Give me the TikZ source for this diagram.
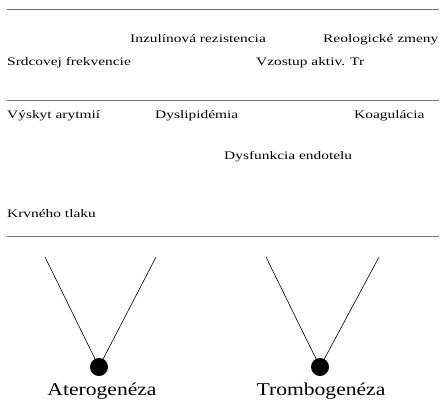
\documentclass[tikz,border=0pt]{standalone}
\usepackage{fontspec}
\setmainfont{Liberation Serif}
\newfontfamily\widefont[FakeStretch=1.34]{Liberation Serif}
\newfontfamily\bigwidefont[FakeStretch=1.2]{Liberation Serif}
\begin{document}
\begin{tikzpicture}[x=1pt,y=-1pt,
  lbl/.style={anchor=base west,inner sep=0pt,font=\widefont\fontsize{11.5}{14}\selectfont},
  big/.style={anchor=base,inner sep=0pt,font=\bigwidefont\fontsize{18}{21}\selectfont},
  rule/.style={draw=black!55,line width=0.7pt},
  vline/.style={draw=black,line width=0.6pt},
  dot/.style={circle,fill=black,minimum size=18pt,inner sep=0pt}]
\useasboundingbox (0,0) rectangle (443,399);
% rules
\coordinate (r1a) at (7,9);   \coordinate (r1b) at (439,9);
\coordinate (r2a) at (7,100); \coordinate (r2b) at (439,100);
\coordinate (r3a) at (7,236); \coordinate (r3b) at (439,236);
\draw[rule] (r1a) -- (r1b);
\draw[rule] (r2a) -- (r2b);
\draw[rule] (r3a) -- (r3b);
% labels
\node[lbl] (inz) at (130,42) {Inzulínová rezistencia};
\node[lbl] (reo) at (323,42) {Reologické zmeny};
\node[lbl] (srd) at (7,65) {Srdcovej frekvencie};
\node[lbl] (vzo) at (256,65) {Vzostup aktiv. Tr};
\node[lbl] (vys) at (7,118) {Výskyt arytmií};
\node[lbl] (dys) at (155,118) {Dyslipidémia};
\node[lbl] (koa) at (354,118) {Koagulácia};
\node[lbl] (end) at (224,159) {Dysfunkcia endotelu};
\node[lbl] (krv) at (7,217) {Krvného tlaku};
% V shapes
\node[dot] (d1) at (99,367) {};
\node[dot] (d2) at (320,367) {};
\coordinate (a1) at (45,257); \coordinate (a2) at (156,257);
\coordinate (b1) at (266,257); \coordinate (b2) at (379,257);
\draw[vline] (a1) -- (d1.center);
\draw[vline] (a2) -- (d1.center);
\draw[vline] (b1) -- (d2.center);
\draw[vline] (b2) -- (d2.center);
\node[big] (ate) at (102,395) {Aterogenéza};
\node[big] (tro) at (321,395) {Trombogenéza};
\end{tikzpicture}
\end{document}
